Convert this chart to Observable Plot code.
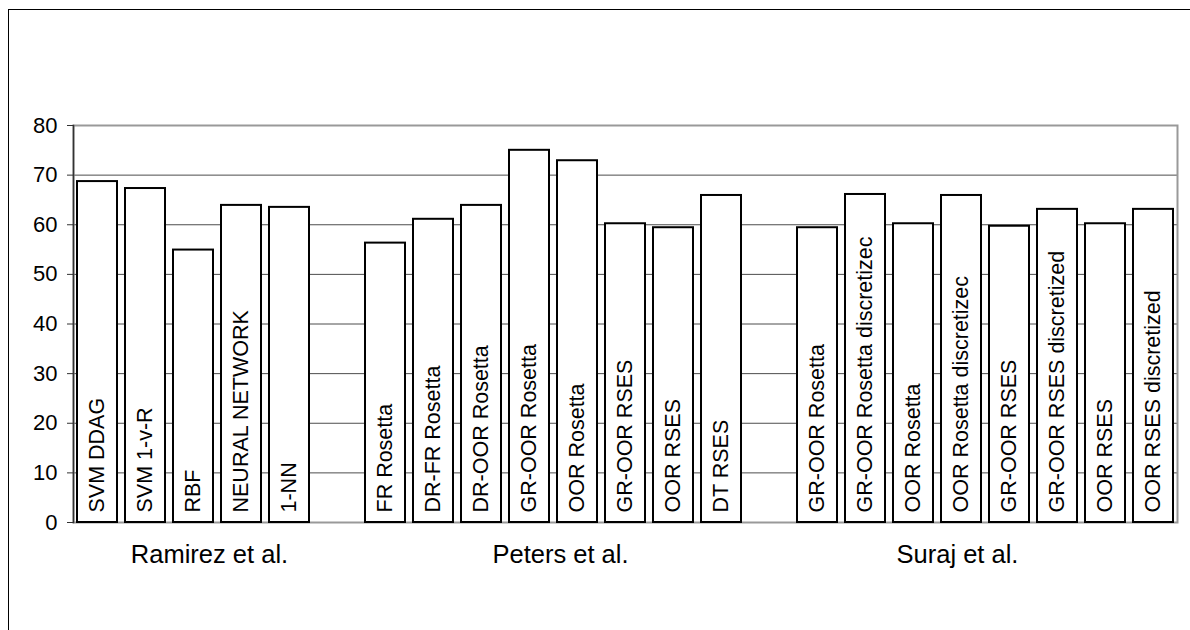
<!DOCTYPE html>
<html><head><meta charset="utf-8">
<script src="https://cdn.jsdelivr.net/npm/d3@7"></script>
<script src="https://cdn.jsdelivr.net/npm/@observablehq/plot@0.6"></script>
<style>
body{margin:0;background:#fff;}
#wrap{position:relative;width:1190px;height:630px;overflow:hidden;font-family:"Liberation Sans",Arial,sans-serif;}
#wrap::before{content:"";position:absolute;left:8px;top:9px;width:1220px;height:700px;border:1.5px solid #000;pointer-events:none;}
#wrap svg{position:absolute;left:0;top:0;}
</style></head><body><div id="wrap"></div>
<script>
const groupNames = ["Ramirez et al.", "Peters et al.", "Suraj et al."];

const ramirezLabels = ["SVM DDAG", "SVM 1-v-R", "RBF", "NEURAL NETWORK", "1-NN"];
const ramirezValues = [68.7, 67.3, 54.9, 63.9, 63.5];

const petersLabels = ["FR Rosetta", "DR-FR Rosetta", "DR-OOR Rosetta", "GR-OOR Rosetta", "OOR Rosetta", "GR-OOR RSES", "OOR RSES", "DT RSES"];
const petersValues = [56.3, 61.1, 63.9, 75.0, 72.9, 60.2, 59.4, 65.9];

const surajLabels = ["GR-OOR Rosetta", "GR-OOR Rosetta discretizec", "OOR Rosetta", "OOR Rosetta discretizec", "GR-OOR RSES", "GR-OOR RSES discretized", "OOR RSES", "OOR RSES discretized"];
const surajValues = [59.4, 66.1, 60.2, 65.9, 59.7, 63.1, 60.2, 63.1];

const yTicks = [0, 10, 20, 30, 40, 50, 60, 70, 80];

// build slot table (groups separated by one empty slot)
const groups = [
  {name: groupNames[0], labels: ramirezLabels, values: ramirezValues},
  {name: groupNames[1], labels: petersLabels, values: petersValues},
  {name: groupNames[2], labels: surajLabels, values: surajValues}
];
const slots = [];
const bars = [];
groups.forEach((g, gi) => {
  if (gi > 0) slots.push("gap" + gi);
  g.labels.forEach((l, i) => {
    const key = g.name + "|" + l;
    slots.push(key);
    bars.push({key, label: l, value: g.values[i], group: g.name});
  });
});
const keyAt = (gi, i) => groups[gi].name + "|" + groups[gi].labels[i];
const groupLabel = (gi, i) => [{key: keyAt(gi, i), name: groupNames[gi]}];

const chart = Plot.plot({
  width: 1190,
  height: 630,
  marginLeft: 73,
  marginRight: 13,
  marginTop: 125,
  marginBottom: 108,
  style: {fontFamily: "'Liberation Sans', Arial, sans-serif", fontSize: "21px", color: "#000", background: "transparent"},
  x: {type: "band", domain: slots, paddingInner: 0.167, paddingOuter: 0.0835, axis: null},
  y: {domain: [0, 80], axis: null, label: null},
  marks: [
    Plot.ruleY(yTicks.filter(d => d > 0 && d < 80), {stroke: "#4d4d4d", strokeWidth: 1}),
    Plot.frame({stroke: "#999", strokeWidth: 2}),
    Plot.barY(bars, {x: "key", y: "value", fill: "white", stroke: "black", strokeWidth: 2}),
    Plot.text(bars, {x: "key", y: 0, text: "label", rotate: -90, textAnchor: "start", lineAnchor: "middle", dy: -10, fontSize: 21.5, fill: "#000"}),
    Plot.axisY({ticks: yTicks, tickSize: 6, tickPadding: 10, fontSize: 22, tickFormat: d => String(d), stroke: "#333", label: null}),
    Plot.frame({anchor: "left", stroke: "#333", strokeWidth: 1.5}),
    Plot.text(groupLabel(0, 2), {x: "key", y: () => 0, text: "name", dy: 22, dx: 16, lineAnchor: "top", fontSize: 25.5, fill: "#000"}),
    Plot.text(groupLabel(1, 4), {x: "key", y: () => 0, text: "name", dy: 22, dx: -17, lineAnchor: "top", fontSize: 25.5, fill: "#000"}),
    Plot.text(groupLabel(2, 3), {x: "key", y: () => 0, text: "name", dy: 22, dx: -4, lineAnchor: "top", fontSize: 25.5, fill: "#000"})
  ]
});
document.getElementById("wrap").appendChild(chart);
</script>
</body></html>
